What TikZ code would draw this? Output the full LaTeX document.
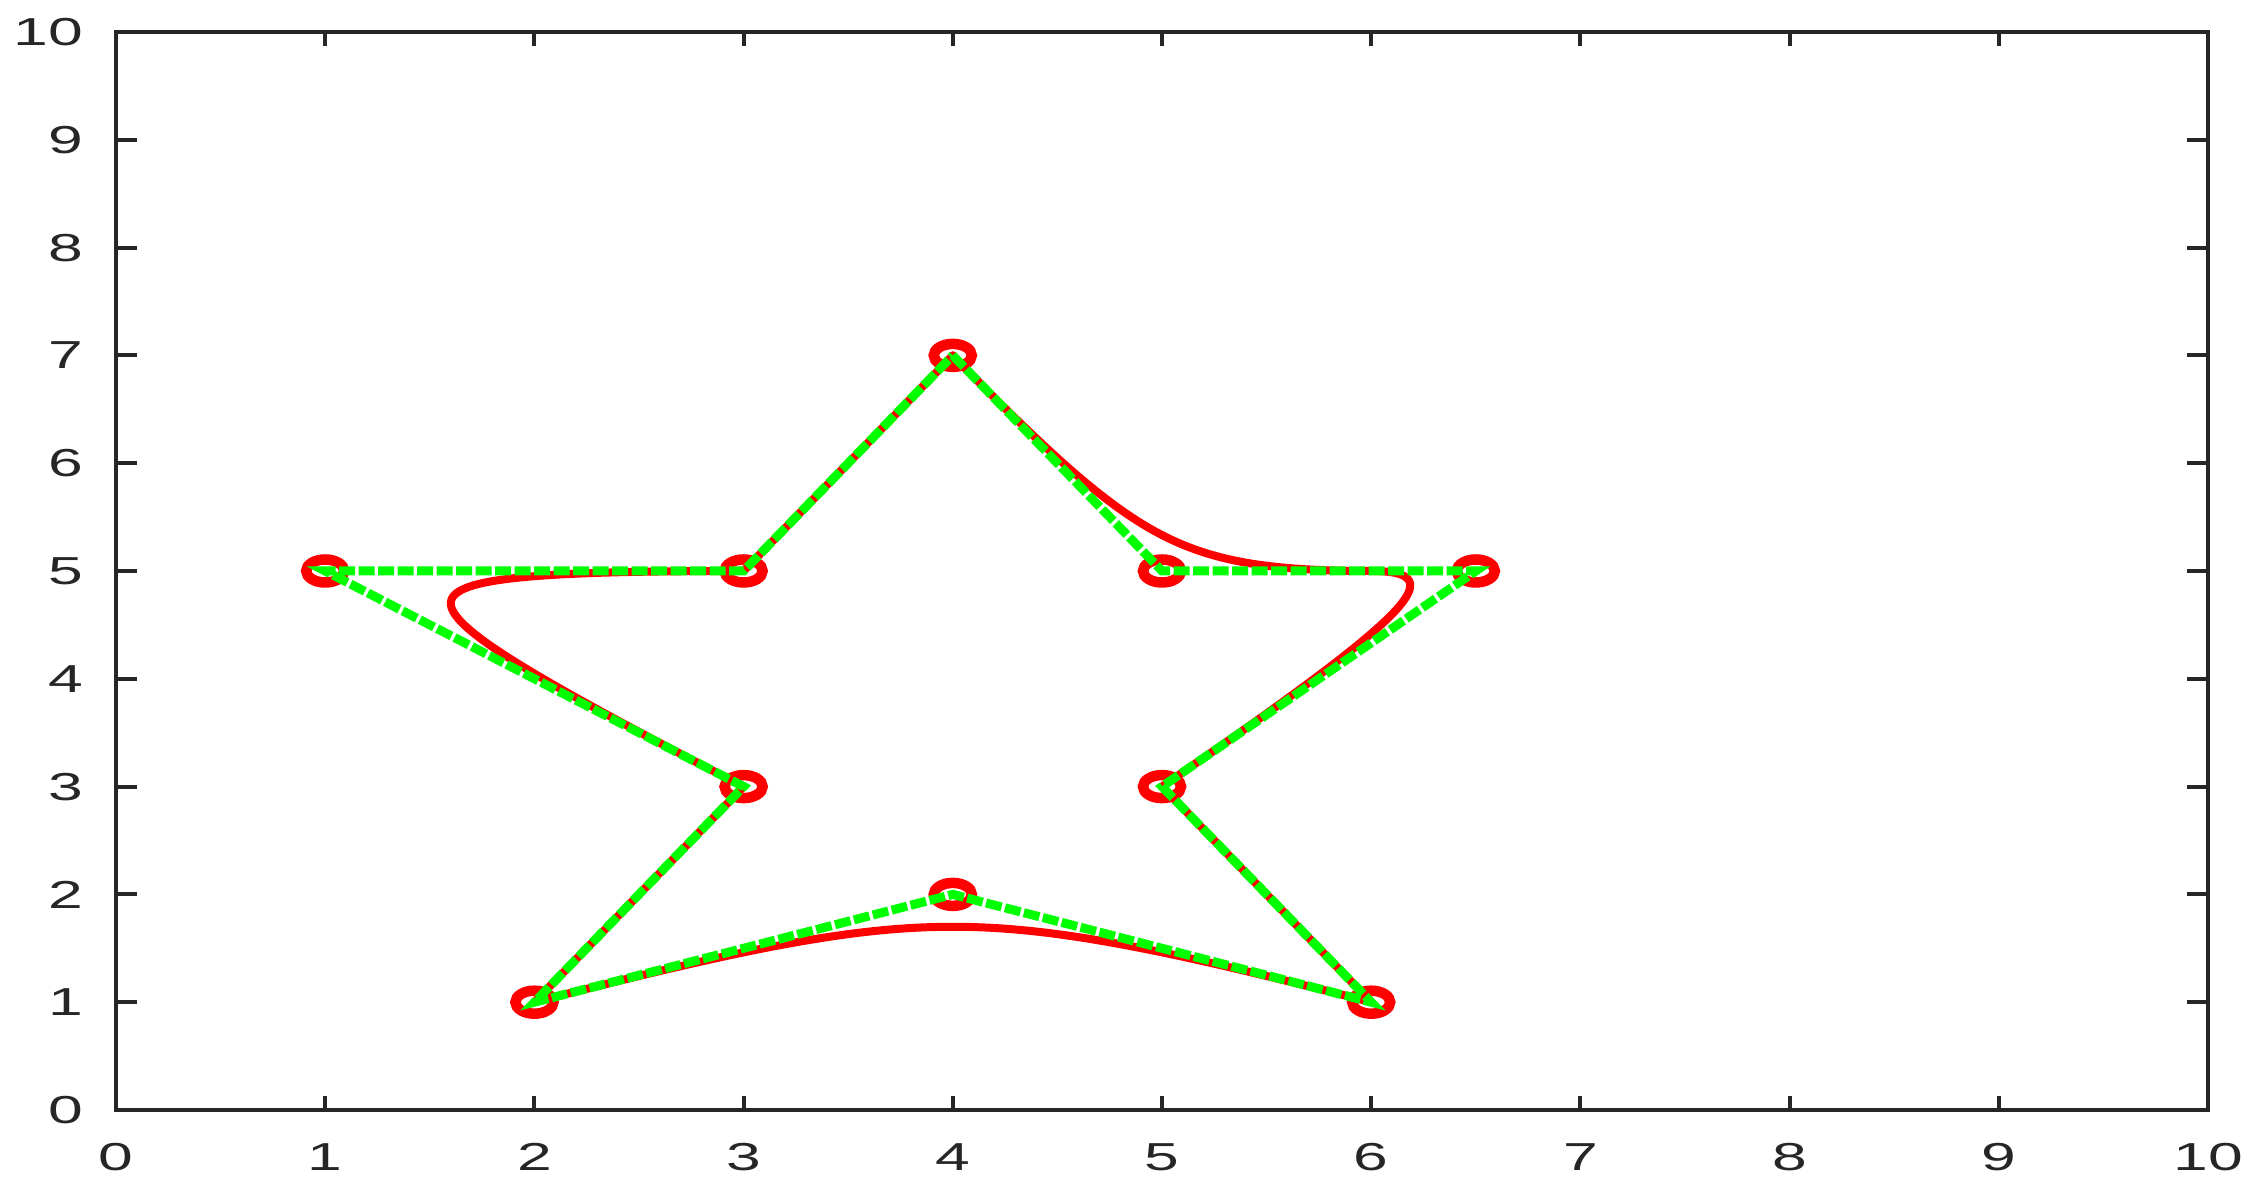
\documentclass[tikz,border=0pt]{standalone}
\usepackage{fontspec}
\newfontfamily\labfont{Liberation Sans}
\definecolor{axgray}{HTML}{262626}
\definecolor{mred}{HTML}{FF0000}
\definecolor{mgreen}{HTML}{00FF00}
% rational quadratic Bezier: x0 y0 x1 y1 x2 y2 weight
\newcommand\rqseg[7]{\draw[curve] plot[domain=0:1,samples=90,smooth]
 ({((1-\x)*(1-\x)*#1+2*#7*(1-\x)*\x*#3+\x*\x*#5)/((1-\x)*(1-\x)+2*#7*(1-\x)*\x+\x*\x)},
  {((1-\x)*(1-\x)*#2+2*#7*(1-\x)*\x*#4+\x*\x*#6)/((1-\x)*(1-\x)+2*#7*(1-\x)*\x+\x*\x)});}
\begin{document}
\begin{tikzpicture}[x=2.092cm,y=1.078cm,
  axis/.style={axgray,line width=0.045cm},
  tickmark/.style={axgray,line width=0.04cm},
  curve/.style={mred,line width=0.08cm,line cap=round,line join=round},
  ctrlpoly/.style={mgreen,line width=0.09cm,dash pattern=on 0.16cm off 0.035cm},
  marker/.style={mred,line width=0.105cm},
  lab/.style={inner sep=0pt,axgray,font=\labfont\fontsize{11.1}{13}\selectfont}]
\useasboundingbox (-1.16cm,-0.86cm) rectangle (21.48cm,11.10cm);
% control points
\coordinate (p1) at (4,7);
\coordinate (p2) at (5,5);
\coordinate (p3) at (6.5,5);
\coordinate (p4) at (5,3);
\coordinate (p5) at (6,1);
\coordinate (p6) at (4,2);
\coordinate (p7) at (2,1);
\coordinate (p8) at (3,3);
\coordinate (p9) at (1,5);
\coordinate (p10) at (3,5);
% red curve
\draw[curve] (p10) -- (p1);
\rqseg{4}{7}{5}{5}{6}{5}{2}
\rqseg{6}{5}{6.5}{5}{5}{3}{1.5}
\draw[curve] (p4) -- (p5);
\rqseg{6}{1}{4}{2}{2}{1}{2.33}
\draw[curve] (p7) -- (p8);
\rqseg{3}{3}{1}{5}{3}{5}{2.33}
% markers
\foreach \p in {p1,p2,p3,p4,p5,p6,p7,p8,p9,p10}
  \draw[marker] (\p) ellipse [x radius=0.19cm, y radius=0.115cm];
% control polygon
\draw[ctrlpoly] (p1) -- (p2) -- (p3) -- (p4) -- (p5) -- (p6) -- (p7) -- (p8) -- (p9) -- (p10) -- (p1);
% axes
\foreach \i in {1,...,9} {
  \draw[tickmark] (\i,0) -- ++(0,0.14cm);
  \draw[tickmark] (\i,10) -- ++(0,-0.14cm);
  \draw[tickmark] (0,\i) -- ++(0.21cm,0);
  \draw[tickmark] (10,\i) -- ++(-0.21cm,0);
}
\draw[axis] (0,0) rectangle (10,10);
\foreach \i in {0,...,10} {
  \node[lab] (xl\i) at ([yshift=-0.47cm]\i,0) {\scalebox{1.6}[1]{\i}};
  \node[lab,anchor=east] (yl\i) at ([xshift=-0.32cm]0,\i) {\scalebox{1.6}[1]{\i}};
}
\end{tikzpicture}
\end{document}
